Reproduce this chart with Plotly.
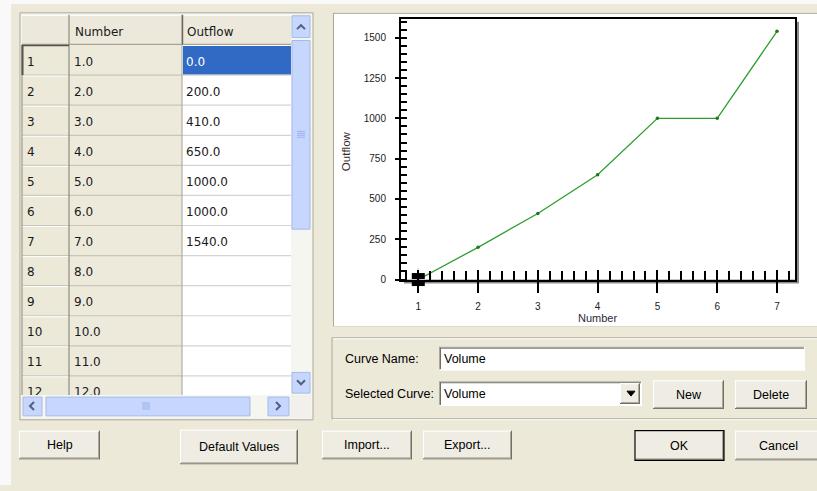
import plotly.graph_objects as go

W, H = 817, 491

# ---------------- data ----------------
numbers = [1, 2, 3, 4, 5, 6, 7]
outflow = [0.0, 200.0, 410.0, 650.0, 1000.0, 1000.0, 1540.0]
row_ids = [1, 2, 3, 4, 5, 6, 7, 8, 9, 10, 11, 12]
table_numbers = [1.0, 2.0, 3.0, 4.0, 5.0, 6.0, 7.0, 8.0, 9.0, 10.0, 11.0, 12.0]
table_headers = ["Number", "Outflow"]
curve_name = "Volume"
x_title = "Number"
y_title = "Outflow"

BEIGE = "#ECE9D8"
BTN = "#EFEDE3"
DARK = "#716F64"
MID = "#ACA899"
SB_BLUE = "#C6D6FC"
SB_EDGE = "#A4BAEC"
ARROW = "#4D6185"
GREEN = "#2E9E2E"

shapes = []
annotations = []


def X(p):
    return p / W


def Y(p):
    return 1 - p / H


def rect(x0, y0, x1, y1, fill=None, line=None, w=1, layer="below"):
    shapes.append(dict(type="rect", xref="paper", yref="paper",
                       x0=X(x0), x1=X(x1), y0=Y(y1), y1=Y(y0),
                       fillcolor=fill or "rgba(0,0,0,0)",
                       line=dict(color=line or "rgba(0,0,0,0)", width=w if line else 0),
                       layer=layer))


def seg(x0, y0, x1, y1, color, w=1, layer="below"):
    shapes.append(dict(type="line", xref="paper", yref="paper",
                       x0=X(x0), x1=X(x1), y0=Y(y0), y1=Y(y1),
                       line=dict(color=color, width=w), layer=layer))


def path(pts, color, w=1.5, fill=None, closed=False, layer="below"):
    d = "M " + " L ".join(f"{X(a):.5f},{Y(b):.5f}" for a, b in pts)
    if closed:
        d += " Z"
    shapes.append(dict(type="path", xref="paper", yref="paper", path=d,
                       line=dict(color=color, width=w),
                       fillcolor=fill or "rgba(0,0,0,0)", layer=layer))


def text(x, y, s, size=12.5, xanchor="center", color="#000000", family="Liberation Sans", angle=0):
    annotations.append(dict(x=X(x), y=Y(y), xref="paper", yref="paper", text=s,
                            showarrow=False, xanchor=xanchor, yanchor="middle",
                            textangle=angle,
                            font=dict(family=family, size=size, color=color)))


def button(x0, y0, x1, y1, label, default=False):
    rect(x0, y0, x1, y1, fill=BTN)
    seg(x0, y0 + 0.5, x1, y0 + 0.5, "#FFFFFF", 1)
    seg(x0 + 0.5, y0, x0 + 0.5, y1, "#FFFFFF", 1)
    seg(x0, y1 - 0.5, x1, y1 - 0.5, DARK, 1)
    seg(x1 - 0.5, y0, x1 - 0.5, y1, DARK, 1)
    seg(x0 + 1, y1 - 1.5, x1 - 1, y1 - 1.5, MID, 1)
    seg(x1 - 1.5, y0 + 1, x1 - 1.5, y1 - 1, MID, 1)
    if default:
        rect(x0, y0, x1, y1, line="#000000", w=1.2)
    text((x0 + x1) / 2, (y0 + y1) / 2 + 0.5, label)


def sunken_box(x0, y0, x1, y1, fill="#FFFFFF"):
    rect(x0, y0, x1, y1, fill=fill)
    seg(x0, y0 + 0.5, x1, y0 + 0.5, MID, 1)
    seg(x0 + 0.5, y0, x0 + 0.5, y1, MID, 1)
    seg(x0 + 1, y0 + 1.5, x1 - 1, y0 + 1.5, DARK, 1)
    seg(x0 + 1.5, y0 + 1, x0 + 1.5, y1 - 1, DARK, 1)
    seg(x0, y1 - 0.5, x1, y1 - 0.5, "#FFFFFF", 1)
    seg(x1 - 0.5, y0, x1 - 0.5, y1, "#FFFFFF", 1)


def sb_button(x0, y0, x1, y1):
    shapes.append(dict(type="rect", xref="paper", yref="paper",
                       x0=X(x0), x1=X(x1), y0=Y(y1), y1=Y(y0),
                       fillcolor=SB_BLUE, line=dict(color=SB_EDGE, width=1), layer="below"))


# ---------------- dialog background (white edge strips) ----------------
rect(0, 0, W, 4, fill="#F9F9F9")
rect(0, 0, 11, H, fill="#F9F9F9")

# ---------------- table panel ----------------
TL, TR, TT, TB = 22, 291, 15, 400
rect(20, 13, 313, 425, fill="#F5F4EE", line=MID, w=1)
# columns
rect(TL, TT, 69, TB, fill="#ECE9D8")
rect(69, TT, 182, TB, fill="#EDEADC")
rect(182, TT, TR, TB, fill="#FFFFFF")
# header row
rect(TL, TT, TR, 45, fill="#ECE9DC")
seg(TL, 45, TR, 45, "#A6A393", 1.2)
seg(TL, TT + 0.5, TR, TT + 0.5, "#FFFFFF", 1)
row_top0, row_h = 45.6, 30.45
# selected cell
rect(183, row_top0 + 1, TR, row_top0 + row_h - 0.5, fill="#316AC5")
# grid lines
for i in range(1, len(row_ids) + 1):
    yy = row_top0 + i * row_h
    seg(TL, yy, 182, yy, "#C9C6B8", 1.2)
    seg(TL, yy + 1, 69, yy + 1, "#FFFFFF", 1)
    seg(182, yy, TR, yy, "#D4D4D4", 1.2)
seg(69, TT, 69, TB, "#8E8B7E", 1.2)
seg(182, TT, 182, TB, "#B0AEA4", 1.2)
seg(182.5, TT, 182.5, 45, "#6E6C62", 1.5)
seg(TL, 45, TL, TB, "#9D9A8C", 1.2)
seg(TL + 0.5, row_top0, TL + 0.5, row_top0 + row_h, "#555349", 2)
seg(TL, row_top0 + 0.5, 69, row_top0 + 0.5, "#555349", 1.5)

# vertical scrollbar
rect(TR, TT, 311, TB, fill="#F6F6F1")
sb_button(292, 16, 310, 38)
path([(297, 29.5), (301, 25.5), (305, 29.5)], ARROW, 2)
sb_button(292, 41, 310, 232)
for k in range(4):
    seg(297, 133 + 2 * k, 305, 133 + 2 * k, "#9AB4EE", 1)
sb_button(292, 377, 310, 398)
path([(297, 385), (301, 389), (305, 385)], ARROW, 2)
# horizontal scrollbar
rect(TL, TB, TR, 423, fill="#F6F6F1")
sb_button(23, 402, 42, 421)
path([(34, 407), (30, 411), (34, 415)], ARROW, 2)
sb_button(46, 402, 250, 421)
for k in range(4):
    seg(143 + 2 * k, 407, 143 + 2 * k, 415, "#9AB4EE", 1)
sb_button(268, 402, 289, 421)
path([(276, 407), (280, 411), (276, 415)], ARROW, 2)
rect(291, 400, 311, 423, fill="#F1F0EA")

# ---------------- chart panel ----------------
rect(333, 13, W + 2, 331, fill="#FFFFFF")
seg(333, 13.5, W, 13.5, MID, 1)
seg(333.5, 13, 333.5, 331, MID, 1)
seg(333, 330.5, W, 330.5, "#DCD9CC", 1)
# frame shadow
rect(404, 22, 799, 287, fill="#8C8C8C")
rect(401, 19.3, 795, 283, fill="#FFFFFF")

text(346, 153, y_title, size=11.5, color="#3A2A2A", angle=-90)
text(597, 321.5, x_title, size=11, color="#2A2A3A")

# ---------------- curve group ----------------
rect(332, 342, W + 2, 424, line=MID, w=1)
seg(333, 343, W, 343, "#FFFFFF", 1)
seg(333, 425, W, 425, "#FFFFFF", 1)
text(343, 363, "Curve Name:", xanchor="left")
sunken_box(439, 351, 805, 375)
text(442, 363, curve_name, xanchor="left")
text(343, 399, "Selected Curve:", xanchor="left")
sunken_box(439, 386, 642, 411)
text(442, 399, curve_name, xanchor="left")
button(620, 388, 640, 409, "")
path([(627, 396), (635, 396), (631, 401)], "#000000", 1, fill="#000000", closed=True)
button(653, 385, 724, 414, "New")
button(735, 385, 807, 414, "Delete")

# ---------------- bottom buttons ----------------
button(19, 436, 100, 465, "Help")
button(180, 435, 298, 470, "Default Values")
button(322, 436, 412, 465, "Import...")
button(423, 436, 512, 465, "Export...")
button(635, 436, 724, 466, "OK", default=True)
button(735, 436, 822, 466, "Cancel")

# ---------------- traces ----------------
fig = go.Figure()
fig.add_trace(go.Scatter(x=numbers, y=outflow, mode="lines+markers",
                         line=dict(color=GREEN, width=1.3),
                         marker=dict(size=3.5, color="#1B7A1B"),
                         cliponaxis=False, hoverinfo="skip", showlegend=False))
# selected point handle
fig.add_trace(go.Scatter(x=[numbers[0]], y=[outflow[0]], mode="markers",
                         marker=dict(symbol="square", size=13, color="#000000"),
                         cliponaxis=False, hoverinfo="skip", showlegend=False))
fig.add_trace(go.Scatter(x=[numbers[0]], y=[outflow[0]], mode="markers",
                         marker=dict(symbol="cross-thin", size=16,
                                     line=dict(color="#C8C8C8", width=1.2)),
                         cliponaxis=False, hoverinfo="skip", showlegend=False))
fig.add_trace(go.Scatter(x=[numbers[0]], y=[outflow[0]], mode="markers",
                         marker=dict(size=3, color="#E040E0"),
                         cliponaxis=False, hoverinfo="skip", showlegend=False))
# invisible trace on overlay axes (inside major ticks)
fig.add_trace(go.Scatter(x=numbers, y=outflow, mode="lines",
                         line=dict(width=0, color="rgba(0,0,0,0)"),
                         xaxis="x2", yaxis="y2", hoverinfo="skip", showlegend=False))

# table text
tx, ty, tt, tc = [], [], [], []
for j, h in enumerate(table_headers):
    tx.append([75, 187][j]); ty.append(33); tt.append(h); tc.append("#1A1A1A")
for i, rid in enumerate(row_ids):
    cy = row_top0 + i * row_h + row_h / 2 + 2.5
    tx.append(27); ty.append(cy); tt.append(str(rid)); tc.append("#1A1A1A")
    tx.append(74); ty.append(cy); tt.append(f"{table_numbers[i]:.1f}"); tc.append("#1A1A1A")
    if i < len(outflow):
        tx.append(186); ty.append(cy); tt.append(f"{outflow[i]:.1f}")
        tc.append("#FFFFFF" if i == 0 else "#1A1A1A")
fig.add_trace(go.Scatter(x=tx, y=ty, text=tt, mode="text", textposition="middle right",
                         textfont=dict(family="DejaVu Sans", size=12, color=tc),
                         xaxis="x3", yaxis="y3", hoverinfo="skip", showlegend=False))

tickfont = dict(family="Liberation Sans", size=10, color="#222222")
xdom = [X(401), X(795)]
ydom = [Y(283), Y(19.3)]
xr = [0.711, 7.301]
yr = [0, 1616]

fig.update_layout(
    width=W, height=H, margin=dict(l=0, r=0, t=0, b=0),
    paper_bgcolor=BEIGE, plot_bgcolor="rgba(0,0,0,0)",
    shapes=shapes, annotations=annotations, showlegend=False,
    xaxis=dict(domain=xdom, range=xr, anchor="y", showline=True, linecolor="#000000",
               linewidth=2, mirror=True, ticks="outside", ticklen=11, tickwidth=1.5,
               tickcolor="#000000", tickmode="linear", tick0=1, dtick=1,
               minor=dict(ticks="inside", ticklen=9, tickwidth=1.5, tickcolor="#000000",
                          dtick=0.2, tick0=1),
               showgrid=False, zeroline=False, tickfont=tickfont, ticklabelstandoff=5,
               fixedrange=True),
    yaxis=dict(domain=ydom, range=yr, anchor="x", showline=True, linecolor="#000000",
               linewidth=2, mirror=True, ticks="outside", ticklen=4, tickwidth=1.5,
               tickcolor="#000000", tickmode="linear", tick0=0, dtick=250,
               minor=dict(ticks="inside", ticklen=6, tickwidth=1.5, tickcolor="#000000",
                          dtick=50, tick0=0),
               showgrid=False, zeroline=False, tickfont=tickfont, ticklabelstandoff=7,
               fixedrange=True),
    xaxis2=dict(overlaying="x", anchor="y2", range=xr, ticks="inside", ticklen=10,
                tickwidth=1.5, tickcolor="#000000", tickmode="linear", tick0=1, dtick=1,
                showticklabels=False, showline=False, showgrid=False, zeroline=False,
                fixedrange=True),
    yaxis2=dict(overlaying="y", anchor="x2", range=yr, ticks="inside", ticklen=6,
                tickwidth=1.5, tickcolor="#000000", tickmode="linear", tick0=0, dtick=250,
                showticklabels=False, showline=False, showgrid=False, zeroline=False,
                fixedrange=True),
    xaxis3=dict(domain=[X(TL), X(TR)], range=[TL, TR], anchor="y3", visible=False,
                fixedrange=True),
    yaxis3=dict(domain=[Y(TB), Y(TT)], range=[TB, TT], anchor="x3", visible=False,
                fixedrange=True),
)

fig.write_html("out.html", config={"displayModeBar": False},
               post_script="document.body.style.margin='0';document.body.style.overflow='hidden';"
                           "document.body.style.background='" + BEIGE + "';"
                           "document.documentElement.style.background='" + BEIGE + "';")
